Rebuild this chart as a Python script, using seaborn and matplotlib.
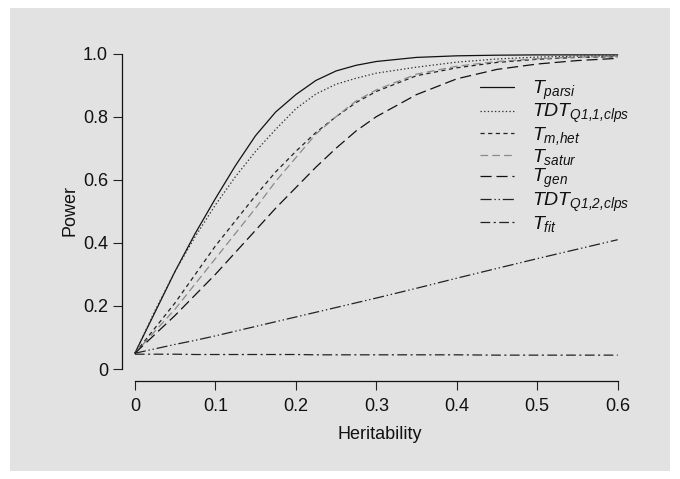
import matplotlib
matplotlib.use("Agg")
import matplotlib.pyplot as plt
import seaborn as sns
import pandas as pd
from matplotlib.patches import Rectangle

sns.set_style("ticks")
plt.rcParams['font.family'] = ['Liberation Sans', 'DejaVu Sans']
plt.rcParams['mathtext.fontset'] = 'custom'
plt.rcParams['mathtext.it'] = 'Liberation Sans:italic'
plt.rcParams['mathtext.rm'] = 'Liberation Sans:italic'
plt.rcParams['lines.scale_dashes'] = False

# ---- data ----
heritability = [0.0, 0.025, 0.05, 0.075, 0.1, 0.125, 0.15, 0.175, 0.2, 0.225, 0.25, 0.275, 0.3,
                0.35, 0.4, 0.45, 0.5, 0.55, 0.6]
t_parsi = [0.05, 0.18, 0.31, 0.43, 0.54, 0.645, 0.74, 0.815, 0.87, 0.915, 0.945, 0.963, 0.975,
           0.988, 0.993, 0.995, 0.996, 0.996, 0.996]
tdt_q11 = [0.05, 0.185, 0.31, 0.42, 0.52, 0.61, 0.69, 0.76, 0.825, 0.872, 0.903, 0.922, 0.938,
           0.957, 0.973, 0.983, 0.989, 0.992, 0.993]
t_mhet = [0.05, 0.13, 0.21, 0.30, 0.39, 0.47, 0.55, 0.625, 0.69, 0.75, 0.80, 0.845, 0.88,
          0.93, 0.955, 0.972, 0.982, 0.988, 0.99]
t_satur = [0.05, 0.12, 0.19, 0.27, 0.35, 0.43, 0.51, 0.595, 0.67, 0.745, 0.80, 0.85, 0.885,
           0.935, 0.96, 0.975, 0.984, 0.989, 0.991]
t_gen = [0.05, 0.11, 0.17, 0.235, 0.30, 0.37, 0.44, 0.51, 0.575, 0.64, 0.70, 0.755, 0.80,
         0.87, 0.92, 0.95, 0.967, 0.978, 0.985]
tdt_q12 = [0.05, 0.064, 0.078, 0.091, 0.105, 0.12, 0.135, 0.15, 0.165, 0.18, 0.195, 0.21, 0.225,
           0.256, 0.288, 0.319, 0.35, 0.38, 0.41]
t_fit = [0.047, 0.047, 0.047, 0.046, 0.046, 0.046, 0.046, 0.046, 0.046, 0.045, 0.045, 0.045, 0.045,
         0.045, 0.045, 0.044, 0.044, 0.044, 0.044]

labels = [r'$T_{parsi}$', r'$TDT_{Q1{,}1{,}clps}$', r'$T_{m{,}het}$', r'$T_{satur}$',
          r'$T_{gen}$', r'$TDT_{Q1{,}2{,}clps}$', r'$T_{fit}$']
series = [t_parsi, tdt_q11, t_mhet, t_satur, t_gen, tdt_q12, t_fit]
x_ticks = [0, 0.1, 0.2, 0.3, 0.4, 0.5, 0.6]
x_ticklabels = ['0', '0.1', '0.2', '0.3', '0.4', '0.5', '0.6']
y_ticks = [0, 0.2, 0.4, 0.6, 0.8, 1.0]
y_ticklabels = ['0', '0.2', '0.4', '0.6', '0.8', '1.0']

styles = [
    dict(color='#111111', dashes=None),
    dict(color='#333333', dashes=(1, 1.6)),
    dict(color='#222222', dashes=(3, 2.5)),
    dict(color='#8a8a8a', dashes=(5.5, 3)),
    dict(color='#111111', dashes=(8, 3.5)),
    dict(color='#222222', dashes=(8, 2, 1, 2, 1, 2)),
    dict(color='#222222', dashes=(7, 2.5, 1.5, 2.5)),
]

W, H = 680, 479
fig = plt.figure(figsize=(W / 100, H / 100), dpi=100)
fig.patch.set_facecolor('white')
fig.patches.append(Rectangle((10 / W, 8 / H), (W - 20) / W, (H - 16) / H,
                             transform=fig.transFigure, facecolor='#e2e2e2',
                             edgecolor='none', zorder=-10))

ax = fig.add_axes([122 / W, (H - 381) / H, 515 / W, 340 / H])
ax.set_facecolor('none')

for lab, vals, st in zip(labels, series, styles):
    df = pd.DataFrame({'h': heritability, 'p': vals})
    sns.lineplot(data=df, x='h', y='p', ax=ax, color=st['color'], lw=0.9, label=lab)
    line = ax.get_lines()[-1]
    if st['dashes'] is not None:
        line.set_dashes(st['dashes'])

ax.set_xlim(-0.016, 0.624)
ax.set_ylim(-0.038, 1.04)
ax.set_xticks(x_ticks)
ax.set_xticklabels(x_ticklabels)
ax.set_yticks(y_ticks)
ax.set_yticklabels(y_ticklabels)
ax.tick_params(axis='both', labelsize=13, length=6.5, width=0.8, color='#222222', labelcolor='#111111')
ax.tick_params(axis='x', pad=6)
ax.tick_params(axis='y', pad=3.5)

for s in ['top', 'right']:
    ax.spines[s].set_visible(False)
ax.spines['left'].set_bounds(0, 1.0)
ax.spines['bottom'].set_bounds(0, 0.6)
for s in ['left', 'bottom']:
    ax.spines[s].set_linewidth(0.9)
    ax.spines[s].set_color('#111111')

ax.set_xlabel('Heritability', fontsize=13, color='#111111', labelpad=8)
ax.set_ylabel('Power', fontsize=13, color='#111111', labelpad=3)

leg = ax.legend(loc='upper left', bbox_to_anchor=(480 / W, (H - 79) / H),
                bbox_transform=fig.transFigure, frameon=False, fontsize=14,
                handlelength=1.75, handletextpad=0.95, labelspacing=0.0,
                borderaxespad=0, borderpad=0)
for t in leg.get_texts():
    t.set_color('#111111')

fig.savefig('out.png', dpi=100, facecolor=fig.get_facecolor())
